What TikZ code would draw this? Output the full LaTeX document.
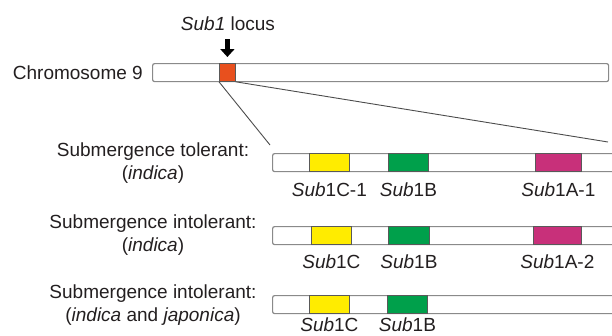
\documentclass[tikz,border=0pt]{standalone}
\usepackage{fontspec}
\setmainfont{Liberation Sans}
\usetikzlibrary{arrows.meta,positioning}

\definecolor{txt}{HTML}{231F20}
\definecolor{barline}{HTML}{8A8A8A}
\definecolor{locusred}{HTML}{E8501E}
\definecolor{geneyellow}{HTML}{FFEC00}
\definecolor{genegreen}{HTML}{00A04B}
\definecolor{genepink}{HTML}{C8307A}

\begin{document}
\begin{tikzpicture}[x=1pt,y=-1pt,font=\fontsize{19}{23}\selectfont,text=txt]
	\tikzstyle{bar}=[draw=barline,fill=white,rounded corners=2pt,line width=1.2pt,inner sep=0pt,minimum height=18pt,anchor=north west]
	\tikzstyle{gene}=[draw=black!65,line width=0.8pt,inner sep=0pt,minimum height=18pt,anchor=north west]
	\tikzstyle{glabel}=[inner sep=2pt]
	\tikzstyle{zoomline}=[draw=black!70,line width=0.9pt]
	\useasboundingbox (0,0) rectangle (612,335);

	% chromosome
	\node[bar,minimum width=456pt] (chrom) at (152,63) {};
	\node[gene,fill=locusred,minimum width=16pt] (locus) at (219,63) {};
	\node[inner sep=2pt,left=7pt of chrom] (chromlbl) {Chromosome 9};
	\node[inner sep=2pt] (locuslbl) at (228,24) {\textit{Sub1} locus};
	\draw[line width=4.5pt,-{Triangle[width=14pt,length=8pt]},shorten <=6pt,shorten >=6pt]
		(locuslbl.south -| locus) -- (locus.north);

	% zoom lines
	\coordinate (zl) at (270,145);
	\coordinate (zr) at (608,142);
	\draw[zoomline] (locus.south west) -- (zl);
	\draw[zoomline] (locus.south east) -- (zr);

	% tolerant indica
	\node[bar,minimum width=345pt] (r1) at (272,153) {};
	\node[gene,fill=geneyellow,minimum width=40pt] (y1) at (309,153) {};
	\node[gene,fill=genegreen,minimum width=40pt] (g1) at (388,153) {};
	\node[gene,fill=genepink,minimum width=46pt] (m1) at (535,153) {};
	\node[glabel,below=9pt of y1] (ly1) {\textit{Sub}1C-1};
	\node[glabel,below=9pt of g1] (lg1) {\textit{Sub}1B};
	\node[glabel,below=9pt of m1] (lm1) {\textit{Sub}1A-1};
	\node[align=center] (t1) at (153,163.5) {Submergence tolerant:\\(\textit{indica})};

	% intolerant indica
	\node[bar,minimum width=345pt] (r2) at (272,226) {};
	\node[gene,fill=geneyellow,minimum width=40pt] (y2) at (311,226) {};
	\node[gene,fill=genegreen,minimum width=41pt] (g2) at (388,226) {};
	\node[gene,fill=genepink,minimum width=48pt] (m2) at (533,226) {};
	\node[glabel,below=8pt of y2] (ly2) {\textit{Sub}1C};
	\node[glabel,below=8pt of g2] (lg2) {\textit{Sub}1B};
	\node[glabel,below=8pt of m2] (lm2) {\textit{Sub}1A-2};
	\node[align=center] (t2) at (153,235) {Submergence intolerant:\\(\textit{indica})};

	% intolerant indica and japonica
	\node[bar,minimum width=345pt] (r3) at (272,295) {};
	\node[gene,fill=geneyellow,minimum width=40pt] (y3) at (309,295) {};
	\node[gene,fill=genegreen,minimum width=40pt] (g3) at (387,295) {};
	\node[glabel,below=2pt of y3] (ly3) {\textit{Sub}1C};
	\node[glabel,below=2pt of g3] (lg3) {\textit{Sub}1B};
	\node[align=center] (t3) at (153,305) {Submergence intolerant:\\(\textit{indica} and \textit{japonica})};
\end{tikzpicture}
\end{document}
